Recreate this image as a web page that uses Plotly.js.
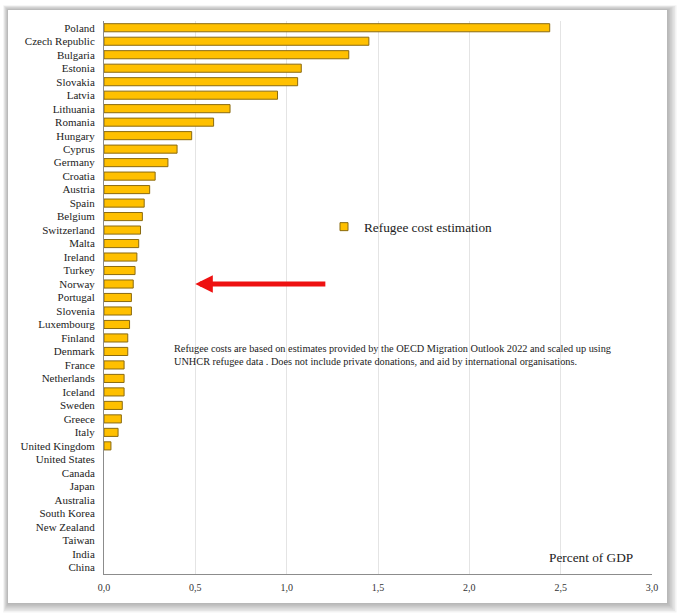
<!DOCTYPE html>
<html>
<head>
<meta charset="utf-8">
<script src="https://cdn.plot.ly/plotly-3.0.1.min.js"></script>
<style>
  html, body { margin: 0; padding: 0; background: #fff; }
  #chart { width: 680px; height: 613px; }
</style>
</head>
<body>
<div id="chart"></div>
<script>
// ---------- DATA ----------
const countries = [
  "Poland", "Czech Republic", "Bulgaria", "Estonia", "Slovakia", "Latvia",
  "Lithuania", "Romania", "Hungary", "Cyprus", "Germany", "Croatia", "Austria",
  "Spain", "Belgium", "Switzerland", "Malta", "Ireland", "Turkey", "Norway",
  "Portugal", "Slovenia", "Luxembourg", "Finland", "Denmark", "France",
  "Netherlands", "Iceland", "Sweden", "Greece", "Italy", "United Kingdom",
  "United States", "Canada", "Japan", "Australia", "South Korea",
  "New Zealand", "Taiwan", "India", "China"
];

const costPctGdp = [
  2.44, 1.45, 1.34, 1.08, 1.06, 0.95,
  0.69, 0.60, 0.48, 0.40, 0.35, 0.28, 0.25,
  0.22, 0.21, 0.20, 0.19, 0.18, 0.17, 0.16,
  0.15, 0.15, 0.14, 0.13, 0.13, 0.11,
  0.11, 0.11, 0.10, 0.095, 0.077, 0.038,
  0, 0, 0, 0, 0,
  0, 0, 0, 0
];

const xTicks = [0, 0.5, 1, 1.5, 2, 2.5, 3];

const seriesName = "Refugee cost estimation";
const noteText = "Refugee costs are based on estimates provided by the OECD Migration Outlook 2022 and scaled up using<br>" +
                 "UNHCR refugee data . Does not include private donations, and aid by international organisations.";

// arrow pointing at Norway
const arrowTarget = { x: 0.5, y: "Norway" };
const arrowTail = 1.22;

// ---------- CHART ----------
const serif = "'Liberation Serif', 'Times New Roman', serif";
const barFill = "#FFC000";
const barEdge = "#8a6a10";

const bars = {
  type: "bar",
  orientation: "h",
  x: costPctGdp,
  y: countries,
  name: seriesName,
  showlegend: false,
  marker: {
    color: barFill,
    // no outline sliver for countries with no estimate
    line: { color: barEdge, width: costPctGdp.map(v => v > 0 ? 1 : 0) }
  },
  hoverinfo: "y+x"
};

// legend entry only: small square like the original
const legendKey = {
  type: "scatter",
  mode: "markers",
  x: [null],
  y: [null],
  name: seriesName,
  marker: { symbol: "square", size: 8, color: barFill, line: { color: barEdge, width: 1 } }
};

// white card with soft shadow (paper coords)
function px2x(px) { return (px - 104) / 548; }
function py2y(py) { return (574 - py) / 553; }

const shapes = [];
for (let i = 6; i >= 1; i--) {
  shapes.push({
    type: "rect", xref: "paper", yref: "paper", layer: "below",
    x0: px2x(8 - i * 0.8), x1: px2x(667 + i * 1.6),
    y0: py2y(603 + i * 1.6), y1: py2y(10 - i * 0.8),
    fillcolor: "rgba(0,0,0,0.05)", line: { width: 0 }
  });
}
shapes.push({
  type: "rect", xref: "paper", yref: "paper", layer: "below",
  x0: px2x(8), x1: px2x(667), y0: py2y(603), y1: py2y(10),
  fillcolor: "#ffffff", line: { width: 0 }
});

const layout = {
  width: 680,
  height: 613,
  margin: { l: 104, r: 28, t: 21, b: 39 },
  paper_bgcolor: "#ffffff",
  plot_bgcolor: "rgba(0,0,0,0)",
  separators: ",.",
  bargap: 0.4,
  font: { family: serif, color: "#222" },
  showlegend: true,
  legend: {
    x: px2x(324), y: py2y(227),
    xanchor: "left", yanchor: "middle",
    bgcolor: "rgba(0,0,0,0)",
    itemwidth: 30,
    font: { family: serif, size: 13.3, color: "#222" }
  },
  xaxis: {
    range: [0, 3],
    tickvals: xTicks,
    tickformat: ".1f",
    showgrid: true,
    gridcolor: "#e4e4e4",
    gridwidth: 1,
    zeroline: false,
    showline: true,
    linecolor: "#8c8c8c",
    linewidth: 1,
    ticks: "outside",
    ticklen: 4,
    tickcolor: "rgba(0,0,0,0)",
    tickfont: { family: serif, size: 10, color: "#333" },
    fixedrange: true
  },
  yaxis: {
    type: "category",
    categoryorder: "array",
    categoryarray: countries,
    autorange: "reversed",
    showgrid: false,
    zeroline: false,
    showline: true,
    linecolor: "#8c8c8c",
    linewidth: 1,
    ticks: "outside",
    ticklen: 6,
    tickcolor: "rgba(0,0,0,0)",
    tickfont: { family: serif, size: 11, color: "#222" },
    fixedrange: true
  },
  shapes: shapes,
  annotations: [
    {
      xref: "paper", yref: "paper",
      x: px2x(172), y: py2y(355),
      xanchor: "left", yanchor: "middle",
      align: "left",
      showarrow: false,
      text: noteText,
      font: { family: serif, size: 10.3, color: "#222" }
    },
    {
      xref: "paper", yref: "paper",
      x: px2x(635), y: py2y(557),
      xanchor: "right", yanchor: "middle",
      showarrow: false,
      text: "Percent of GDP",
      font: { family: serif, size: 13.3, color: "#222" }
    },
    {
      xref: "x", yref: "y",
      x: arrowTarget.x, y: arrowTarget.y,
      axref: "x", ayref: "y",
      ax: arrowTail, ay: arrowTarget.y,
      showarrow: true,
      arrowhead: 2,
      arrowsize: 0.7,
      arrowwidth: 5,
      arrowcolor: "#ee1111",
      text: ""
    }
  ]
};

Plotly.newPlot("chart", [bars, legendKey], layout, { displayModeBar: false, staticPlot: true });
</script>
</body>
</html>
